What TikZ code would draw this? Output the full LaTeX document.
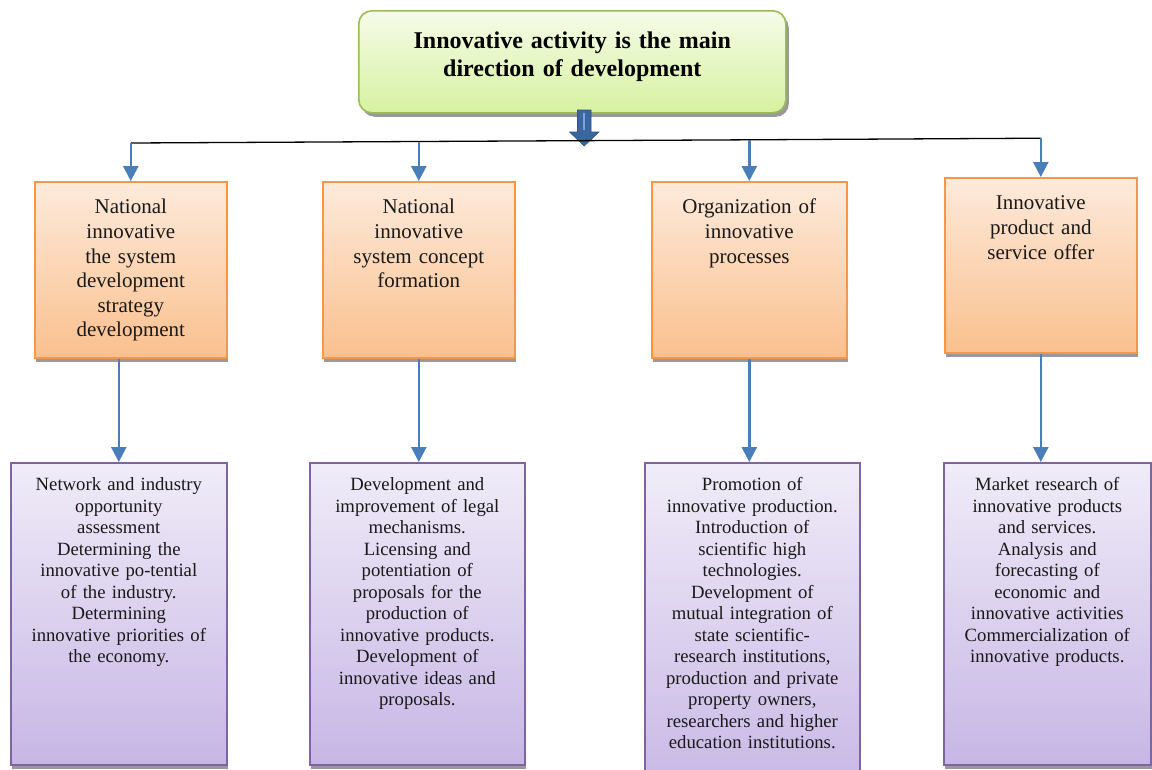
\documentclass[tikz,border=0pt]{standalone}
\usepackage{fontspec}
\setmainfont{Liberation Serif}
\usetikzlibrary{arrows.meta,shadows,positioning}

\definecolor{greenline}{HTML}{9BBB59}
\definecolor{greentop}{HTML}{F6FBE8}
\definecolor{greenbottom}{HTML}{D6F2A0}
\definecolor{orangeline}{HTML}{F79646}
\definecolor{orangetop}{HTML}{FDEADB}
\definecolor{orangebottom}{HTML}{FAC08E}
\definecolor{purpleline}{HTML}{8064A2}
\definecolor{purpletop}{HTML}{F0ECF8}
\definecolor{purplebottom}{HTML}{C7B6E5}
\definecolor{arrowblue}{HTML}{4A7EBB}
\definecolor{blockblue}{HTML}{3B66A0}
\definecolor{stripeblue}{HTML}{7BA4D8}

\begin{document}
\begin{tikzpicture}[x=1pt, y=-1pt,
    maintitle/.style={anchor=north west, draw=greenline, line width=1.6pt, rounded corners=13pt,
        top color=greentop, bottom color=greenbottom,
        text width=415pt, align=center, inner xsep=6pt, inner ysep=0pt,
        text height=38pt, text depth=64pt, text=black,
        font=\fontsize{24}{27.6}\selectfont\bfseries,
        drop shadow={shadow xshift=3pt, shadow yshift=-4pt, fill=black!40, opacity=1}},
    orangebox/.style={anchor=north west, draw=orangeline, line width=1.6pt,
        top color=orangetop, bottom color=orangebottom,
        text width=184pt, align=center, inner xsep=4pt, inner ysep=0pt,
        text height=32pt, text depth=#1, text=black!90,
        font=\fontsize{21}{24.6}\selectfont,
        drop shadow={shadow xshift=1.5pt, shadow yshift=-4pt, fill=black!40, opacity=1}},
    orangebox/.default=144pt,
    purplebox/.style={anchor=north west, draw=purpleline, line width=1.6pt,
        top color=purpletop, bottom color=purplebottom,
        text width=#1, align=center, inner xsep=6pt, inner ysep=0pt,
        text height=28pt, text depth=274pt, text=black!90,
        font=\fontsize{18.7}{21.5}\selectfont,
        drop shadow={shadow xshift=1.5pt, shadow yshift=-4pt, fill=black!40, opacity=1}},
    purplebox/.default=204pt,
    bluearrow/.style={draw=arrowblue, line width=2.6pt, -{Triangle[width=15pt,length=15pt]}}
]
    \useasboundingbox (0,0) rectangle (1152,769);

    % Main direction
    \node[maintitle] (title) at (358,10) {Innovative activity is the main\\direction of development};

    % Directions
    \node[orangebox] (org1) at (34,181) {National\\innovative\\the system\\development\\strategy\\development};
    \node[orangebox] (org2) at (322,181) {National\\innovative\\system concept\\formation};
    \node[orangebox, text width=187pt] (org3) at (651,181) {Organization of\\innovative\\processes};
    \node[orangebox=143pt] (org4) at (944,177) {Innovative\\product and\\service offer};

    % Tasks
    \node[purplebox] (pur1) at (10,462) {Network and industry\\opportunity\\assessment\\Determining the\\innovative po-tential\\of the industry.\\Determining\\innovative priorities of\\the economy.};
    \node[purplebox=203pt] (pur2) at (309,462) {Development and\\improvement of legal\\mechanisms.\\Licensing and\\potentiation of\\proposals for the\\production of\\innovative products.\\Development of\\innovative ideas and\\proposals.};
    \node[purplebox=203pt, text depth=310pt] (pur3) at (644,462) {Promotion of\\innovative production.\\Introduction of\\scientific high\\technologies.\\Development of\\mutual integration of\\state scientific-\\research institutions,\\production and private\\property owners,\\researchers and higher\\education institutions.};
    \node[purplebox=195pt] (pur4) at (943,462) {Market research of\\innovative products\\and services.\\Analysis and\\forecasting of\\economic and\\innovative activities\\Commercialization of\\innovative products.};

    % Block arrow
    \filldraw[fill=blockblue, draw=blockblue!80!black, line width=.6pt] (577.5,110) -- (591,110) -- (591,132) -- (599,132) -- (584.2,146)
        -- (569.5,132) -- (577.5,132) -- cycle;
    \draw[stripeblue, line width=2.2pt] (584.2,113) -- (584.2,130);

    % Bus line
    \coordinate (bus1) at (org1.north |- 0,143);
    \coordinate (bus2) at (org2.north |- 0,141.5);
    \coordinate (bus3) at (org3.north |- 0,139.8);
    \coordinate (bus4) at (org4.north |- 0,138.2);
    \draw[black, line width=1.3pt] (bus1) -- (bus2) -- (bus3) -- (bus4);

    % Arrows
    \foreach \i in {1,2,3,4} {
        \draw[bluearrow] (bus\i) -- (org\i.north);
    }
    \draw[bluearrow] (pur1.north |- org1.south) -- (pur1.north);
    \foreach \i in {2,3,4} {
        \draw[bluearrow] (org\i.south) -- (org\i.south |- pur\i.north);
    }
\end{tikzpicture}
\end{document}
